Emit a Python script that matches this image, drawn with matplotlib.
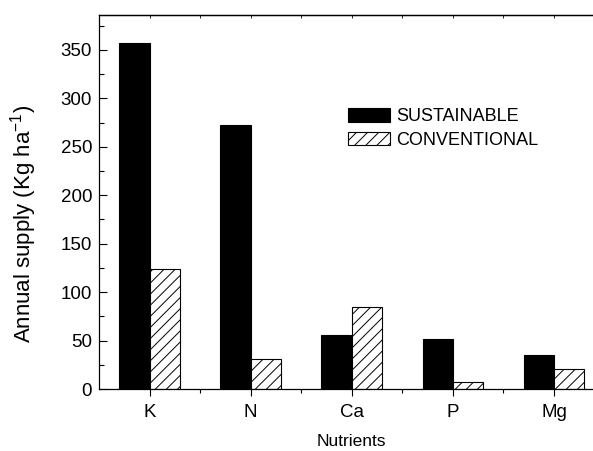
import matplotlib
matplotlib.use("Agg")
import matplotlib.pyplot as plt
import numpy as np
from matplotlib.ticker import MultipleLocator

categories = ["K", "N", "Ca", "P", "Mg"]
sustainable = [357, 273, 56, 52, 35]
conventional = [124, 31, 85, 7, 21]

plt.rcParams['font.family'] = ['Liberation Sans', 'DejaVu Sans']
plt.rcParams['hatch.linewidth'] = 0.7

fig = plt.figure(figsize=(5.93, 4.51), dpi=100)
ax = fig.add_axes([99/593, 1-389/451, (604.5-99)/593, (389-14.7)/451])

x = np.arange(len(categories))
w = 0.3
ax.bar(x - w/2, sustainable, w, color='black', edgecolor='black', linewidth=0.8, label='SUSTAINABLE')
ax.bar(x + w/2, conventional, w, color='white', edgecolor='black', linewidth=0.8, hatch='///', label='CONVENTIONAL')

ax.set_xlim(-0.5, len(categories) - 0.5)
ax.set_ylim(0, 386.4)
ax.set_xticks(x)
ax.set_xticklabels(categories, fontsize=13.5)
ax.set_xticks(x[:-1] + 0.5, minor=True)
ax.yaxis.set_major_locator(MultipleLocator(50))
ax.yaxis.set_minor_locator(MultipleLocator(25))
ax.tick_params(axis='y', which='major', direction='in', length=6, width=0.8, labelsize=13.5, pad=5)
ax.tick_params(axis='y', which='minor', direction='in', length=3.5, width=0.8)
ax.tick_params(axis='x', which='major', direction='out', length=5, width=0.8, pad=6)
ax.tick_params(axis='x', which='minor', direction='out', length=3, width=0.8)

top = ax.secondary_xaxis('top')
top.set_xticks(x)
top.set_xticks(x[:-1] + 0.5, minor=True)
top.tick_params(axis='x', which='both', direction='in', length=2, width=0.6, labeltop=False)

for s in ax.spines.values():
    s.set_linewidth(0.9)
top.spines['top'].set_linewidth(0.9)

ax.set_xlabel('Nutrients', fontsize=12.5, labelpad=9)
ax.set_ylabel('Annual supply (Kg ha$^{\\mathregular{-1}}$)', fontsize=16)
ax.yaxis.set_label_coords(-0.118, 0.44)

leg = ax.legend(loc='upper left', bbox_to_anchor=(348/593, 1-108/451), bbox_transform=fig.transFigure,
                frameon=False, fontsize=13, handlelength=2.3, handleheight=0.8,
                handletextpad=0.35, labelspacing=0.35, borderpad=0, borderaxespad=0)

fig.savefig('out.png', dpi=100)
